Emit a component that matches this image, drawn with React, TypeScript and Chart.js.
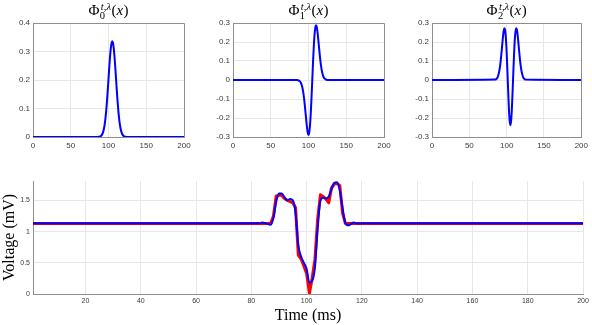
import React, { useEffect, useRef } from 'react';
import { Chart, registerables } from 'chart.js';

Chart.register(...registerables);

// ---------------- data ----------------
const hermiteX = [0, 85, 86, 87, 88, 89, 90, 91, 92, 93, 94, 95, 96, 97, 98, 99, 100, 101, 102, 103, 104, 105,
  106, 107, 108, 109, 110, 111, 112, 113, 114, 115, 116, 117, 118, 119, 120, 121, 122, 123, 124, 125, 200];

const phi0 = [0, 0.0001, 0.0002, 0.0005, 0.0010, 0.0020, 0.0037, 0.0067, 0.0114, 0.0189, 0.0299, 0.0455, 0.0665,
  0.0934, 0.1261, 0.1636, 0.2038, 0.2440, 0.2807, 0.3102, 0.3293, 0.3360, 0.3293, 0.3102, 0.2807, 0.2440, 0.2038,
  0.1636, 0.1261, 0.0934, 0.0665, 0.0455, 0.0299, 0.0189, 0.0114, 0.0067, 0.0037, 0.0020, 0.0010, 0.0005, 0.0002,
  0.0001, 0];

const phi1 = [0, -0.0006, -0.0012, -0.0025, -0.0048, -0.0091, -0.0157, -0.0265, -0.0419, -0.0641, -0.0930, -0.1287,
  -0.1693, -0.2113, -0.2497, -0.2776, -0.2900, -0.2761, -0.2382, -0.1755, -0.0931, 0, 0.0931, 0.1755, 0.2382, 0.2761,
  0.2882, 0.2776, 0.2497, 0.2113, 0.1693, 0.1287, 0.0930, 0.0641, 0.0419, 0.0265, 0.0157, 0.0091, 0.0048, 0.0025,
  0.0012, 0.0006, 0];

const phi2 = [0, 0.0022, 0.0047, 0.0088, 0.0156, 0.0275, 0.0445, 0.0695, 0.1009, 0.1406, 0.1835, 0.2252, 0.2577,
  0.2721, 0.2604, 0.2175, 0.1441, 0.0483, -0.0556, -0.1492, -0.2142, -0.2376, -0.2142, -0.1492, -0.0556, 0.0483,
  0.1441, 0.2175, 0.2604, 0.2721, 0.2577, 0.2252, 0.1835, 0.1406, 0.1009, 0.0695, 0.0445, 0.0275, 0.0156, 0.0088,
  0.0047, 0.0022, 0];

const titleBase = 'Φ';
const titleSubscripts = ['0', '1', '2'];
const titleSuper = 't,λ';
const titleArg = 'x';

const topXTicks = [0, 50, 100, 150, 200];
const topXLabels = ['0', '50', '100', '150', '200'];
const phi0YTicks = [0, 0.1, 0.2, 0.3, 0.4];
const phi0YLabels = ['0', '0.1', '0.2', '0.3', '0.4'];
const phi12YTicks = [-0.3, -0.2, -0.1, 0, 0.1, 0.2, 0.3];
const phi12YLabels = ['-0.3', '-0.2', '-0.1', '0', '0.1', '0.2', '0.3'];

const ecgTimeOrig = [1, 86, 87, 88, 89, 90, 91, 92, 93, 94, 95, 96, 97, 98, 99, 100, 101, 102, 103, 104, 105, 106,
  107, 108, 109, 110, 111, 112, 113, 114, 115, 200];
const ecgOrig = [1.13, 1.13, 1.13, 1.25, 1.57, 1.58, 1.58, 1.53, 1.50, 1.48, 1.46, 1.38, 0.62, 0.56, 0.45, 0.33,
  0.01, 0.25, 0.55, 1.20, 1.59, 1.56, 1.52, 1.46, 1.70, 1.76, 1.77, 1.74, 1.30, 1.13, 1.13, 1.13];

const ecgTimeApprox = [1, 83, 84, 85, 86, 87, 88, 89, 90, 91, 92, 93, 94, 95, 96, 97, 98, 99, 100, 101, 102, 103,
  104, 105, 106, 107, 108, 109, 110, 111, 112, 113, 114, 115, 116, 117, 118, 119, 120, 200];
const ecgApprox = [1.132, 1.132, 1.145, 1.135, 1.12, 1.11, 1.22, 1.48, 1.61, 1.61, 1.55, 1.50, 1.52, 1.50, 1.30, 0.78,
  0.60, 0.50, 0.40, 0.18, 0.21, 0.42, 1.05, 1.50, 1.54, 1.53, 1.56, 1.68, 1.78, 1.79, 1.66, 1.38, 1.14, 1.10, 1.12,
  1.145, 1.135, 1.13, 1.132, 1.132];

const ecgXTicks = [20, 40, 60, 80, 100, 120, 140, 160, 180, 200];
const ecgXLabels = ['20', '40', '60', '80', '100', '120', '140', '160', '180', '200'];
const ecgYTicks = [0, 0.5, 1, 1.5];
const ecgYLabels = ['0', '0.5', '1', '1.5'];
const ecgXTitle = 'Time (ms)';
const ecgYTitle = 'Voltage (mV)';

// ---------------- styling ----------------
const W = 592;
const H = 325;
const AXIS = '#8e8e8e';
const GRID = '#e7e7e7';
const TICK = '#3a3a3a';
const SANS = '"Liberation Sans", Arial, sans-serif';
const SERIF = '"Liberation Serif", "Times New Roman", serif';

const align = (v: number) => Math.round(v - 0.5) + 0.5;

const boxPlugin = {
  id: 'boxTopRight',
  afterDraw(chart: any) {
    const { ctx, chartArea: a } = chart;
    ctx.save();
    ctx.strokeStyle = AXIS;
    ctx.lineWidth = 1;
    ctx.beginPath();
    const t = align(a.top);
    const r = align(a.right);
    ctx.moveTo(align(a.left), t);
    ctx.lineTo(r, t);
    ctx.lineTo(r, align(a.bottom));
    ctx.stroke();
    ctx.restore();
  },
};

function mathTitlePlugin(sub: string) {
  return {
    id: 'mathTitle',
    afterDraw(chart: any) {
      const { ctx, chartArea } = chart;
      const big = 15;
      const small = 10.5;
      const fBig = `${big}px ${SERIF}`;
      const fBigIt = `italic ${big}px ${SERIF}`;
      const fSmall = `${small}px ${SERIF}`;
      const fSmallIt = `italic ${small}px ${SERIF}`;
      ctx.save();
      ctx.fillStyle = '#000';
      ctx.textAlign = 'left';
      ctx.textBaseline = 'alphabetic';
      const w = (f: string, t: string) => {
        ctx.font = f;
        return ctx.measureText(t).width;
      };
      const wPhi = w(fBig, titleBase);
      const wSub = w(fSmall, sub);
      const wSup = w(fSmallIt, titleSuper);
      const wScript = Math.max(wSub + 0.5, wSup + 1.5) + 0.5;
      const wOpen = w(fBig, '(');
      const wArg = w(fBigIt, titleArg);
      const wClose = w(fBig, ')');
      const total = wPhi + wScript + wOpen + wArg + wClose + 0.5;
      let x = (chartArea.left + chartArea.right) / 2 - total / 2;
      const base = chartArea.top - 8;
      ctx.font = fBig;
      ctx.fillText(titleBase, x, base);
      x += wPhi;
      ctx.font = fSmall;
      ctx.fillText(sub, x + 0.5, base + 4);
      ctx.font = fSmallIt;
      ctx.fillText(titleSuper, x + 1.5, base - 5.5);
      x += wScript;
      ctx.font = fBig;
      ctx.fillText('(', x, base);
      x += wOpen;
      ctx.font = fBigIt;
      ctx.fillText(titleArg, x, base);
      x += wArg + 0.5;
      ctx.font = fBig;
      ctx.fillText(')', x, base);
      ctx.restore();
    },
  };
}

function fixedTicks(values: number[]) {
  return (scale: any) => {
    scale.ticks = values.map((v) => ({ value: v }));
  };
}

const lineStyle = {
  pointRadius: 0,
  fill: false,
  borderJoinStyle: 'round',
  borderCapStyle: 'round',
};

function makeTop(
  canvas: HTMLCanvasElement,
  idx: number,
  ys: number[],
  yTicks: number[],
  yLabels: string[],
  yMin: number,
  yMax: number,
  left: number,
  right: number
) {
  const yWidth = 33;
  const xHeight = 16;
  const top = 23;
  const bottom = 137;
  return new Chart(canvas, {
    type: 'line',
    data: {
      datasets: [
        {
          data: hermiteX.map((x, i) => ({ x, y: ys[i] })),
          borderColor: '#0000ff',
          borderWidth: 2,
          cubicInterpolationMode: 'monotone',
          ...lineStyle,
        },
      ],
    },
    options: {
      animation: false,
      responsive: false,
      devicePixelRatio: 1,
      events: [],
      layout: {
        padding: { left: left - yWidth, right: W - right, top, bottom: H - bottom - xHeight },
      },
      plugins: { legend: { display: false }, tooltip: { enabled: false }, title: { display: false } },
      scales: {
        x: {
          type: 'linear',
          min: 0,
          max: 200,
          afterBuildTicks: fixedTicks(topXTicks),
          afterFit: (s: any) => {
            s.height = xHeight;
          },
          grid: { color: GRID, drawTicks: false, lineWidth: 1 },
          border: { display: true, color: AXIS, width: 1 },
          ticks: {
            autoSkip: false,
            maxRotation: 0,
            padding: 4,
            color: TICK,
            font: { family: SANS, size: 8 },
            callback: (_v: any, i: number) => topXLabels[i],
          },
        },
        y: {
          type: 'linear',
          min: yMin,
          max: yMax,
          afterBuildTicks: fixedTicks(yTicks),
          afterFit: (s: any) => {
            s.width = yWidth;
          },
          grid: { color: GRID, drawTicks: false, lineWidth: 1 },
          border: { display: true, color: AXIS, width: 1 },
          ticks: {
            autoSkip: false,
            padding: 3,
            color: TICK,
            font: { family: SANS, size: 8 },
            callback: (_v: any, i: number) => yLabels[i],
          },
        },
      },
    },
    plugins: [boxPlugin, mathTitlePlugin(titleSubscripts[idx])],
  } as any);
}

function makeBottom(canvas: HTMLCanvasElement) {
  const yWidth = 33;
  const xHeight = 31;
  return new Chart(canvas, {
    type: 'line',
    data: {
      datasets: [
        {
          data: ecgTimeOrig.map((x, i) => ({ x, y: ecgOrig[i] })),
          borderColor: '#ff0000',
          borderWidth: 3,
          tension: 0.0001,
          order: 2,
          ...lineStyle,
        },
        {
          data: ecgTimeApprox.map((x, i) => ({ x, y: ecgApprox[i] })),
          borderColor: '#0000ff',
          borderWidth: 2,
          cubicInterpolationMode: 'monotone',
          order: 1,
          ...lineStyle,
        },
      ],
    },
    options: {
      animation: false,
      responsive: false,
      devicePixelRatio: 1,
      events: [],
      layout: { padding: { left: 0, right: 9, top: 181, bottom: 0 } },
      plugins: { legend: { display: false }, tooltip: { enabled: false }, title: { display: false } },
      scales: {
        x: {
          type: 'linear',
          min: 1,
          max: 200,
          afterBuildTicks: fixedTicks(ecgXTicks),
          afterFit: (s: any) => {
            s.height = xHeight;
          },
          grid: { color: GRID, drawTicks: false, lineWidth: 1 },
          border: { display: true, color: AXIS, width: 1 },
          ticks: {
            autoSkip: false,
            maxRotation: 0,
            padding: 3,
            color: TICK,
            font: { family: SANS, size: 7 },
            callback: (_v: any, i: number) => ecgXLabels[i],
          },
          title: {
            display: true,
            text: ecgXTitle,
            color: '#000',
            font: { family: SERIF, size: 16 },
            padding: { top: 0, bottom: 0 },
          },
        },
        y: {
          type: 'linear',
          min: 0,
          max: 1.81,
          afterBuildTicks: fixedTicks(ecgYTicks),
          afterFit: (s: any) => {
            s.width = yWidth;
          },
          grid: { color: GRID, drawTicks: false, lineWidth: 1 },
          border: { display: true, color: AXIS, width: 1 },
          ticks: {
            autoSkip: false,
            padding: 3,
            color: TICK,
            font: { family: SANS, size: 7 },
            callback: (_v: any, i: number) => ecgYLabels[i],
          },
          title: {
            display: true,
            text: ecgYTitle,
            color: '#000',
            font: { family: SERIF, size: 16 },
            padding: { top: 0, bottom: 0 },
          },
        },
      },
    },
  } as any);
}

export default function App() {
  const r0 = useRef<HTMLCanvasElement>(null);
  const r1 = useRef<HTMLCanvasElement>(null);
  const r2 = useRef<HTMLCanvasElement>(null);
  const r3 = useRef<HTMLCanvasElement>(null);

  useEffect(() => {
    const charts = [
      makeTop(r0.current!, 0, phi0, phi0YTicks, phi0YLabels, 0, 0.4, 33, 184),
      makeTop(r1.current!, 1, phi1, phi12YTicks, phi12YLabels, -0.3, 0.3, 233, 384),
      makeTop(r2.current!, 2, phi2, phi12YTicks, phi12YLabels, -0.3, 0.3, 432, 584),
      makeBottom(r3.current!),
    ];
    return () => charts.forEach((c) => c.destroy());
  }, []);

  const cs: React.CSSProperties = { position: 'absolute', left: 0, top: 0, width: W, height: H };
  return (
    <div style={{ position: 'fixed', left: 0, top: 0, width: W, height: H, background: '#fff', overflow: 'hidden' }}>
      <canvas ref={r0} width={W} height={H} style={cs} />
      <canvas ref={r1} width={W} height={H} style={cs} />
      <canvas ref={r2} width={W} height={H} style={cs} />
      <canvas ref={r3} width={W} height={H} style={cs} />
    </div>
  );
}
